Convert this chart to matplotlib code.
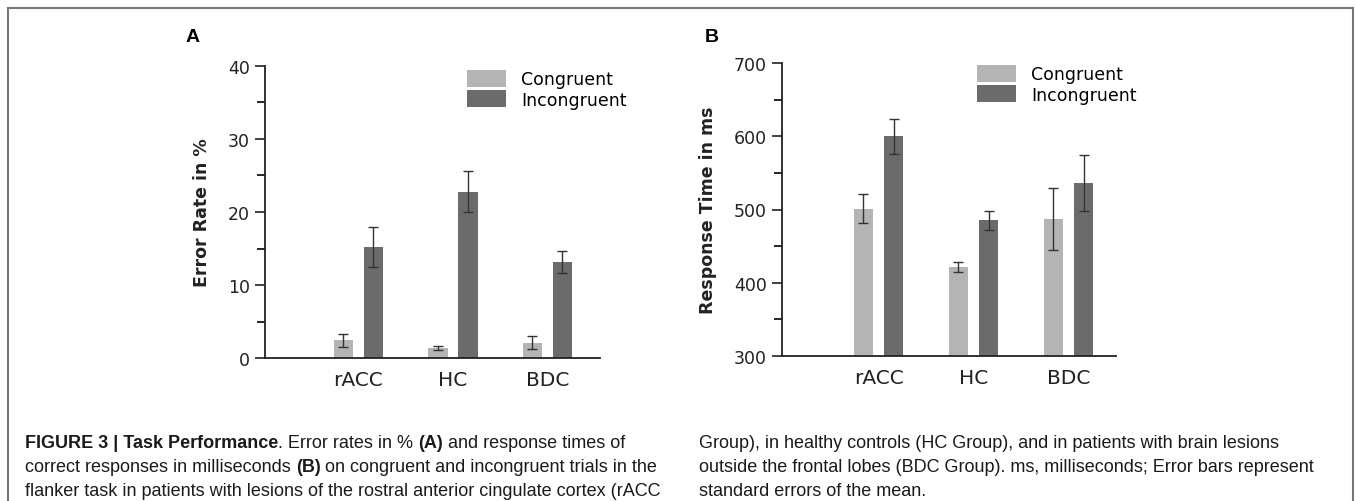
import numpy as np
import matplotlib.pyplot as plt
from matplotlib.patches import Patch, Rectangle
from matplotlib.ticker import MultipleLocator

# --- data ---
groups = ["rACC", "HC", "BDC"]
series = ["Congruent", "Incongruent"]

err_rate_cong = [2.4, 1.4, 2.1]
err_rate_cong_se = [0.95, 0.3, 0.85]
err_rate_incong = [15.2, 22.8, 13.2]
err_rate_incong_se = [2.7, 2.75, 1.5]

rt_cong = [501, 421, 487]
rt_cong_se = [20, 7, 42]
rt_incong = [600, 485, 536]
rt_incong_se = [24, 13, 38]

caption_left = [
    [("FIGURE 3 | Task Performance", "bold"), (". Error rates in % ", "normal"),
     ("(A)", "bold"), (" and response times of", "normal")],
    [("correct responses in milliseconds ", "normal"), ("(B)", "bold"),
     (" on congruent and incongruent trials in the", "normal")],
    [("flanker task in patients with lesions of the rostral anterior cingulate cortex (rACC", "normal")],
]
caption_right = [
    [("Group), in healthy controls (HC Group), and in patients with brain lesions", "normal")],
    [("outside the frontal lobes (BDC Group). ms, milliseconds; Error bars represent", "normal")],
    [("standard errors of the mean.", "normal")],
]

# --- style ---
W, H = 1356, 502
c_light = "#b4b4b4"
c_dark = "#6b6b6b"
err_col = "#333333"
fs = 12.5

fig = plt.figure(figsize=(W / 100, H / 100), dpi=100)


def px_rect(l, r, top, bottom):
    return [l / W, 1 - bottom / H, (r - l) / W, (bottom - top) / H]


def draw_panel(rect, xlim, ylim, major, cong, cong_se, incong, incong_se, ylabel, letter, letter_x, leg_x, leg_top):
    ax = fig.add_axes(rect)
    x = np.arange(len(groups))
    off, w = 0.159, 0.206
    ekw = dict(ecolor=err_col, elinewidth=1.0, capsize=3.5, capthick=1.0)
    ax.bar(x - off, cong, w, color=c_light, yerr=cong_se, error_kw=ekw, label=series[0])
    ax.bar(x + off, incong, w, color=c_dark, yerr=incong_se, error_kw=ekw, label=series[1])
    ax.set_xlim(*xlim)
    ax.set_ylim(*ylim)
    ax.yaxis.set_major_locator(MultipleLocator(major))
    ax.yaxis.set_minor_locator(MultipleLocator(major / 2))
    ax.set_xticks(x)
    ax.set_xticklabels(groups, fontsize=14.5, color="#222222")
    ax.tick_params(axis="x", length=0, pad=9)
    ax.tick_params(axis="y", which="major", length=7, width=1.2, labelsize=fs, colors="#222222", pad=4)
    ax.tick_params(axis="y", which="minor", length=6, width=1.2)
    for s in ["top", "right"]:
        ax.spines[s].set_visible(False)
    for s in ["left", "bottom"]:
        ax.spines[s].set_linewidth(1.3)
        ax.spines[s].set_color("#222222")
    ax.set_ylabel(ylabel, fontsize=12.5, fontweight="bold", labelpad=12, color="#222222")
    fig.text(letter_x / W, 1 - 37 / H, letter, fontsize=14, fontweight="bold",
             ha="center", va="center", family="Liberation Sans")
    handles = [Patch(facecolor=c_light), Patch(facecolor=c_dark)]
    ax.legend(handles, series, loc="upper left", bbox_to_anchor=(leg_x / W, 1 - leg_top / H),
              bbox_transform=fig.transFigure, frameon=False, fontsize=fs,
              handlelength=2.25, handleheight=1.1, handletextpad=0.85,
              labelspacing=0.12, borderpad=0, borderaxespad=0)
    return ax


draw_panel(px_rect(265, 600, 67, 359), (-0.989, 2.556), (0, 40), 10,
           err_rate_cong, err_rate_cong_se, err_rate_incong, err_rate_incong_se,
           "Error Rate in %", "A", 193, 467, 71)
draw_panel(px_rect(782, 1116, 64, 357), (-1.016, 2.5), (300, 700), 100,
           rt_cong, rt_cong_se, rt_incong, rt_incong_se,
           "Response Time in ms", "B", 712, 977, 66)

# border around the figure
fig.add_artist(Rectangle((8 / W, -0.05), (1353 - 8) / W, 1.05 - 9 / H,
                         transform=fig.transFigure, fill=False, edgecolor="#777777", lw=1.5))

# caption, pieced together so bold and normal runs can be mixed
fig.canvas.draw()
renderer = fig.canvas.get_renderer()
cap_fs = 13.0
line_y = [444, 468, 492]


def write_lines(lines, x0):
    for row, y in zip(lines, line_y):
        x = x0
        for txt, weight in row:
            t = fig.text(x / W, 1 - y / H, txt, fontsize=cap_fs, fontweight=weight,
                         family="Liberation Sans", color="#1a1a1a", va="center", ha="left")
            bb = t.get_window_extent(renderer)
            x = bb.x1


write_lines(caption_left, 25)
write_lines(caption_right, 699)

fig.savefig("out.png", dpi=100)
plt.close(fig)
